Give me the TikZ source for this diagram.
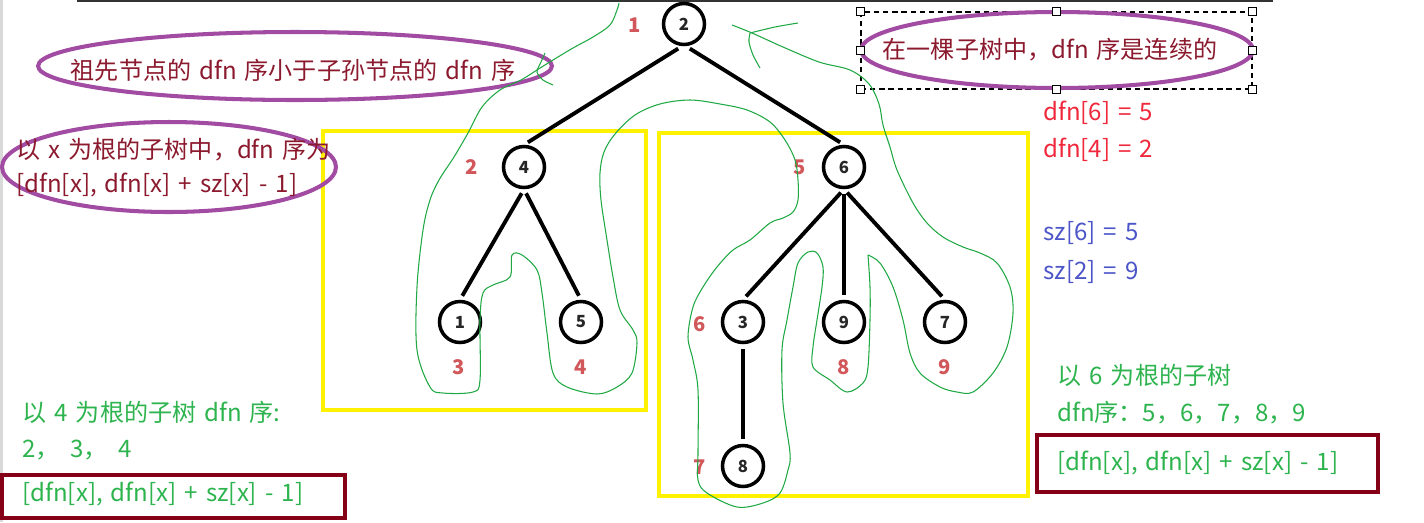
\documentclass[tikz,border=0pt]{standalone}
\usepackage{fontspec}
\setmainfont{Noto Sans CJK SC}[WordSpace=1.5]
\usetikzlibrary{shapes.geometric}
\definecolor{dkred}{HTML}{8C1A2E}
\definecolor{purp}{HTML}{A24BA3}
\definecolor{ylw}{HTML}{FFF200}
\definecolor{lblred}{HTML}{D2575A}
\definecolor{brred}{HTML}{F0283C}
\definecolor{blu}{HTML}{4B55C8}
\definecolor{grn}{HTML}{2DB44E}
\definecolor{trace}{HTML}{1FA843}
\definecolor{boxred}{HTML}{850016}
\begin{document}
\begin{tikzpicture}[x=0.02cm,y=-0.02cm,
  tnode/.style={circle,draw=black,line width=2pt,minimum size=0.82cm,inner sep=0pt,
    font=\fontsize{9.5}{10}\selectfont\bfseries,text=black!85},
  edge/.style={line width=2.2pt,shorten <=2.6pt,shorten >=2.6pt},
  dlabel/.style={text=lblred,inner sep=0pt,font=\fontsize{11.5}{12}\selectfont\bfseries},
  maintext/.style={inner sep=0pt,font=\fontsize{13.7}{16}\selectfont},
  bubble/.style={ellipse,draw=purp,line width=2.3pt,inner sep=0pt},
  handle/.style={draw=black,fill=white,line width=0.6pt,minimum size=0.15cm,inner sep=0pt},
  ybox/.style={draw=ylw,line width=2.8pt},
  rbox/.style={draw=boxred,line width=2.3pt},
  tracepath/.style={draw=trace,line width=0.6pt}
]
\useasboundingbox (0,0) rectangle (1424,522);
\fill[white] (0,0) rectangle (1424,522);
\draw[black!15,line width=1.5pt] (1.5,0) -- (1.5,522);
\draw[black!80,line width=1.1pt] (77,1) -- (1273,1);

% yellow subtree boxes
\draw[ybox] (323,131) rectangle (646,410);
\draw[ybox] (659,133) rectangle (1028,496);

% bubbles
\node[bubble,minimum width=10.28cm,minimum height=1.36cm] (e1) at (295,66) {};
\node[maintext,text=dkred] (t1) at (293,70) {祖先节点的 dfn 序小于子孙节点的 dfn 序};
\node[bubble,minimum width=6.68cm,minimum height=1.8cm] (e2) at (169,167) {};
\node[maintext,text=dkred,anchor=west] (t2a) at (16,150) {以 x 为根的子树中，dfn 序为};
\node[maintext,text=dkred,anchor=west] (t2b) at (16,185) {[dfn[x], dfn[x] + sz[x] - 1]};

\node[draw=black,dashed,dash pattern=on 3pt off 2.2pt,line width=0.7pt,
      minimum width=7.82cm,minimum height=1.54cm,inner sep=0pt] (sel) at (1056.5,50.5) {};
\node[bubble,minimum width=7.84cm,minimum height=1.52cm] (e3) at (1057,50) {};
\node[maintext,text=dkred] (t3) at (1050,50) {在一棵子树中，dfn 序是连续的};
\foreach \a/\n in {north west/1,north/2,north east/3,west/4,east/5,south west/6,south/7,south east/8}
  \node[handle] (h\n) at (sel.\a) {};

% side notes
\node[maintext,text=brred,anchor=west] (d6) at (1043,113) {dfn[6] = 5};
\node[maintext,text=brred,anchor=west] (d4) at (1043,150) {dfn[4] = 2};
\node[maintext,text=blu,anchor=west] (s6) at (1043,233) {sz[6] = 5};
\node[maintext,text=blu,anchor=west] (s2) at (1043,272) {sz[2] = 9};

\node[maintext,text=grn,anchor=west] (g1) at (22,412) {以 4 为根的子树 dfn 序:};
\node[maintext,text=grn,anchor=west] (g2) at (22,450) {2，\hspace{6pt}3，\hspace{6pt}4};
\draw[rbox] (2,475) rectangle (345,518);
\node[maintext,text=grn,anchor=west] (g3) at (22,494) {[dfn[x], dfn[x] + sz[x] - 1]};

\node[maintext,text=grn,anchor=west] (r1) at (1057,375) {以 6 为根的子树};
\node[maintext,text=grn,anchor=west] (r2) at (1057,413) {dfn序：5，6，7，8，9};
\draw[rbox] (1037,435) rectangle (1378,492);
\node[maintext,text=grn,anchor=west] (r3) at (1057,463) {[dfn[x], dfn[x] + sz[x] - 1]};

% tree
\node[tnode] (n2) at (684,24) {2};
\node[tnode] (n4) at (524,167) {4};
\node[tnode] (n6) at (844,167) {6};
\node[tnode] (n1) at (460,322) {1};
\node[tnode] (n5) at (581,322) {5};
\node[tnode] (n3) at (743,322) {3};
\node[tnode] (n9) at (844,322) {9};
\node[tnode] (n7) at (945,322) {7};
\node[tnode] (n8) at (743,466) {8};
\draw[edge] (n2.265) -- (n4.north);
\draw[edge] (n2.275) -- (n6.north);
\draw[edge] (n4.south) -- (n1.north);
\draw[edge] (n4.south) -- (n5.north);
\draw[edge] (n6.south) -- (n3.north);
\draw[edge] (n6.south) -- (n9.north);
\draw[edge] (n6.south) -- (n7.north);
\draw[edge] (n3.south) -- (n8.north);

% dfn order labels
\node[dlabel] (l1) at (635,25) {1};
\node[dlabel] (l2) at (472,167) {2};
\node[dlabel] (l3) at (459,367) {3};
\node[dlabel] (l4) at (581,367) {4};
\node[dlabel] (l5) at (800,167) {5};
\node[dlabel] (l6) at (700,324) {6};
\node[dlabel] (l7) at (700,467) {7};
\node[dlabel] (l8) at (844,367) {8};
\node[dlabel] (l9) at (945,367) {9};

% hand-drawn traversal
\draw[tracepath] plot[smooth,tension=0.55] coordinates {
 (619,3) (617,10) (610,25) (593,37) (573,48) (553,60) (537,70) (521,80) (500,90)
 (482,107) (468,133) (454,157) (439,180) (430,200) (423,230) (417,287) (417,350)
 (430,387) (443,393) (473,392) (480,380) (480,320) (483,293) (493,285) (510,277)
 (512,255) (522,255) (537,270) (542,293) (547,333) (553,373) (567,387) (597,394)
 (617,387) (632,373) (637,343) (633,330) (620,310) (613,277) (607,240) (601,200)
 (600,173) (604,152) (615,134) (635,115) (660,104) (690,100) (720,104) (747,110)
 (770,122) (785,140) (795,160) (798,180) (798,200) (793,212) (783,218) (770,223)
 (750,240) (733,250) (717,267) (703,287) (693,307) (688,337) (693,360) (698,390)
 (698,453) (698,480) (707,493) (737,507) (763,503) (780,493) (788,470) (790,453)
 (783,403) (782,350) (787,320) (793,287) (798,263) (808,252) (817,253) (823,267)
 (822,287) (817,320) (813,347) (813,367) (830,380) (847,392) (863,383) (868,367)
 (870,320) (870,287) (868,255)};
\draw[tracepath] plot[smooth,tension=0.55] coordinates {
 (868,255) (880,263) (893,287) (903,320) (910,353) (920,373) (940,387) (957,392)
 (973,392) (993,373) (1007,347) (1013,313) (1010,287) (997,263) (980,253) (963,247)
 (943,237) (927,223) (913,203) (897,170) (890,147) (883,125) (879,104) (869,84)
 (850,70) (819,62) (783,47) (752,33) (732,25)};
\draw[tracepath] plot[smooth] coordinates {(750,33) (775,27) (798,23)};
\draw[tracepath] plot[smooth] coordinates {(750,33) (749,42) (753,55) (760,68)};
\draw[tracepath] plot[smooth] coordinates {(545,53) (541,62) (537,72) (543,80) (553,85)};
\end{tikzpicture}
\end{document}
